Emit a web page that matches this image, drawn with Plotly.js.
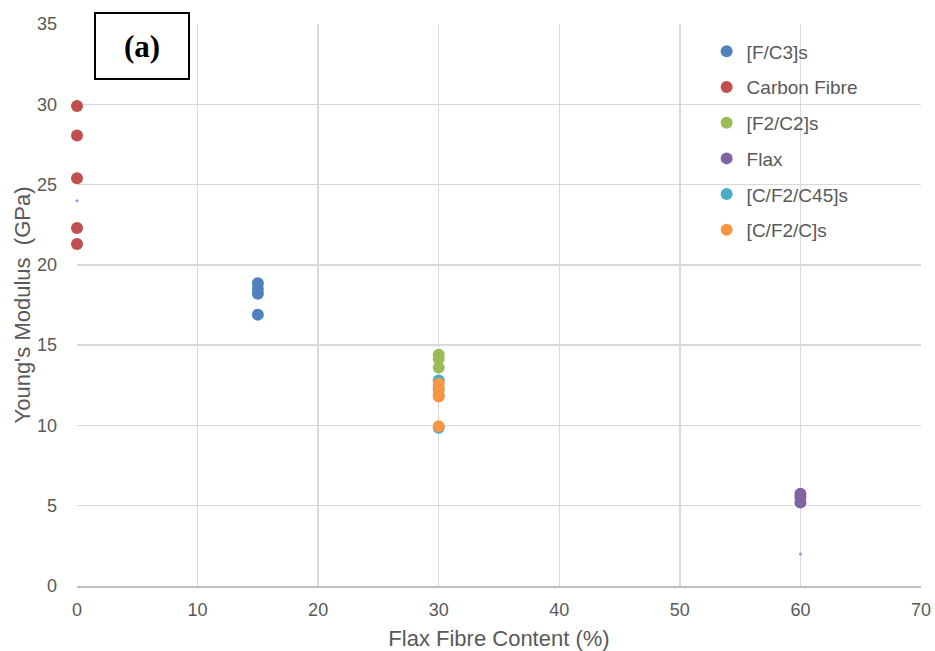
<!DOCTYPE html>
<html><head><meta charset="utf-8">
<script src="https://cdn.plot.ly/plotly-3.0.1.min.js"></script>
<style>body{margin:0;background:#fff}#chart{width:935px;height:651px}</style>
</head><body><div id="chart"></div>
<script>
// Data
const seriesNames = ["[F/C3]s", "Carbon Fibre", "[F2/C2]s", "Flax", "[C/F2/C45]s", "[C/F2/C]s"];
const fc3X = [15, 15, 15, 15];
const fc3Y = [18.85, 18.5, 18.2, 16.9];
const carbonX = [0, 0, 0, 0, 0];
const carbonY = [29.9, 28.05, 25.4, 22.3, 21.3];
const f2c2X = [30, 30, 30];
const f2c2Y = [14.4, 14.15, 13.6];
const flaxX = [60, 60, 60];
const flaxY = [5.75, 5.55, 5.2];
const cf2c45X = [30, 30, 30, 30];
const cf2c45Y = [12.8, 12.3, 11.9, 9.85];
const cf2cX = [30, 30, 30, 30];
const cf2cY = [12.6, 12.2, 11.8, 9.95];
const smallX = [0, 60];
const smallY = [24.0, 2.0];
const xTicks = [0, 10, 20, 30, 40, 50, 60, 70];
const yTicks = [0, 5, 10, 15, 20, 25, 30, 35];

const colors = ["#4F81BD", "#C0504D", "#9BBB59", "#8064A2", "#4BACC6", "#F79646"];
const xs = [fc3X, carbonX, f2c2X, flaxX, cf2c45X, cf2cX];
const ys = [fc3Y, carbonY, f2c2Y, flaxY, cf2c45Y, cf2cY];

const traces = seriesNames.map((n, i) => ({
  type: "scatter", mode: "markers", name: n, x: xs[i], y: ys[i],
  legendgroup: "g" + i,
  marker: {color: colors[i], size: 12},
  cliponaxis: false
}));
traces.push({
  type: "scatter", mode: "markers", x: smallX, y: smallY, showlegend: false,
  marker: {color: "#7FA1D6", size: 3}, cliponaxis: false, hoverinfo: "skip"
});

const tickFont = {family: "Liberation Sans, Arial, sans-serif", size: 18, color: "#595959"};
const titleFont = {family: "Liberation Sans, Arial, sans-serif", size: 22, color: "#595959"};
const layout = {
  width: 935, height: 651,
  margin: {l: 77, r: 14, t: 24, b: 65},
  paper_bgcolor: "#fff", plot_bgcolor: "#fff",
  showlegend: true,
  legend: {
    x: 0.746, y: 0.985, xanchor: "left", yanchor: "top",
    font: {family: "Liberation Sans, Arial, sans-serif", size: 19, color: "#595959"},
    bgcolor: "rgba(0,0,0,0)", tracegroupgap: 8, itemwidth: 30
  },
  xaxis: {
    range: [0, 70], tickvals: xTicks, ticktext: xTicks.map(String),
    showgrid: true, gridcolor: "#d9d9d9", gridwidth: 1.5,
    zeroline: false, showline: true, linecolor: "#bfbfbf", linewidth: 1.5,
    ticks: "", tickfont: tickFont, ticklabelstandoff: 7,
    title: {text: "Flax Fibre Content (%)", font: titleFont, standoff: 11}
  },
  yaxis: {
    range: [0, 35], tickvals: yTicks, ticktext: yTicks.map(String),
    showgrid: true, gridcolor: "#d9d9d9", gridwidth: 1.5,
    zeroline: false, showline: false,
    ticks: "", tickfont: tickFont, ticklabelstandoff: 19,
    title: {text: "Young's Modulus  (GPa)", font: titleFont, standoff: 0}
  },
  annotations: [{
    xref: "paper", yref: "paper", x: 0.077, y: 0.96, xanchor: "center", yanchor: "middle",
    text: "<b>(a)</b>", showarrow: false,
    font: {family: "Liberation Serif, Times New Roman, serif", size: 31, color: "#000"},
    bgcolor: "#fff", bordercolor: "#000", borderwidth: 2, width: 90, height: 62
  }]
};
Plotly.newPlot("chart", traces, layout, {staticPlot: true, displayModeBar: false});
</script></body></html>
